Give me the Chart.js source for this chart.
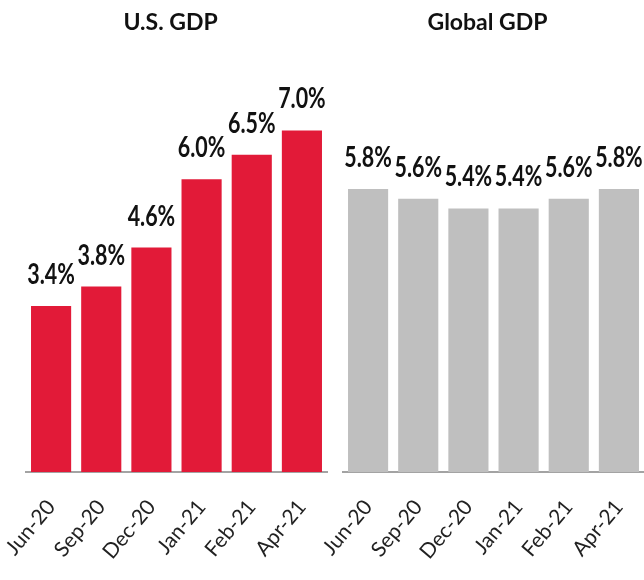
<!DOCTYPE html>
<html>
<head>
<meta charset="utf-8">
<script src="https://cdn.jsdelivr.net/npm/chart.js@4"></script>
<style>
  html, body { margin: 0; padding: 0; background: #fff; }
  body { width: 644px; height: 580px; position: relative; overflow: hidden; }
  .panel { position: absolute; top: 0; height: 580px; }
  #usWrap { left: 0; width: 330px; }
  #glWrap { left: 300px; width: 344px; }
</style>
</head>
<body>
<div class="panel" id="usWrap"><canvas id="usChart"></canvas></div>
<div class="panel" id="glWrap"><canvas id="glChart"></canvas></div>
<script>
// data
const months       = ["Jun-20", "Sep-20", "Dec-20", "Jan-21", "Feb-21", "Apr-21"];
const usValues     = [3.4, 3.8, 4.6, 6.0, 6.5, 7.0];
const globalValues = [5.8, 5.6, 5.4, 5.4, 5.6, 5.8];
const yMax = 8;

const FONT = "Lato, 'Open Sans', sans-serif";

// value labels above each bar (slightly condensed, like the original's narrow face)
const valueLabels = {
  id: "valueLabels",
  afterDatasetsDraw(chart) {
    const ctx = chart.ctx;
    const meta = chart.getDatasetMeta(0);
    const vals = chart.data.datasets[0].data;
    ctx.save();
    ctx.font = `bold 29px ${FONT}`;
    ctx.fillStyle = "#111";
    ctx.textAlign = "center";
    ctx.textBaseline = "alphabetic";
    meta.data.forEach((bar, i) => {
      ctx.save();
      ctx.translate(bar.x, bar.y - 22);
      ctx.scale(0.74, 1);
      ctx.fillText(`${vals[i].toFixed(1)}%`, 0, 0);
      ctx.restore();
    });
    ctx.restore();
  }
};

function makeChart(id, title, values, color, padLeft, padRight) {
  return new Chart(document.getElementById(id), {
    type: "bar",
    data: { labels: months, datasets: [{ data: values, backgroundColor: color,
      categoryPercentage: 1, barPercentage: 0.8 }] },
    options: {
      responsive: true, maintainAspectRatio: false, animation: false,
      layout: { padding: { top: 0, bottom: 0, left: padLeft, right: padRight } },
      plugins: {
        legend: { display: false },
        tooltip: { enabled: false },
        title: { display: true, text: title, color: "#111",
          font: { family: FONT, size: 23, weight: "bold" },
          padding: { top: 9, bottom: 45 } }
      },
      scales: {
        x: {
          grid: { display: false, drawTicks: false },
          border: { display: true, color: "#a3a3a3", width: 2 },
          ticks: { color: "#222", font: { family: FONT, size: 21 },
            minRotation: 50, maxRotation: 50, padding: 23, autoSkip: false },
          afterFit: (a) => { a.height = 108; a.paddingLeft = 0; a.paddingRight = 0; }
        },
        y: {
          min: 0, max: yMax,
          grid: { display: false }, border: { display: false },
          ticks: { display: false },
          afterFit: (a) => { a.width = 12; }
        }
      }
    },
    plugins: [valueLabels]
  });
}

makeChart("usChart", "U.S. GDP", usValues, "#e21a38", 14, 3);
makeChart("glChart", "Global GDP", globalValues, "#bfbfbf", 31, 0);
</script>
</body>
</html>
